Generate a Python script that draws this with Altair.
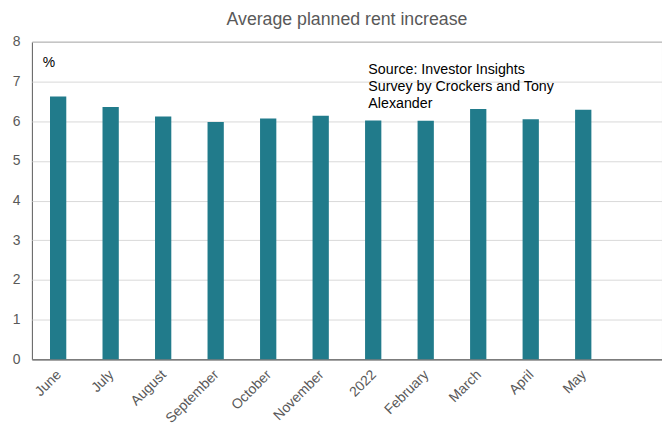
import altair as alt
import pandas as pd

months = ["June", "July", "August", "September", "October", "November",
          "2022", "February", "March", "April", "May", ""]
values = [6.62, 6.36, 6.12, 5.98, 6.07, 6.14, 6.02, 6.01, 6.31, 6.05, 6.29, None]
source_text = "Source: Investor Insights\nSurvey by Crockers and Tony\nAlexander"

df = pd.DataFrame({"month": months, "value": values})
FONT = "Liberation Sans"
GREY = "#595959"

bars = alt.Chart(df).mark_bar(color="#217b8b", width={"band": 0.31}).encode(
    x=alt.X("month:N", sort=months, title=None,
            scale=alt.Scale(paddingInner=0, paddingOuter=0),
            axis=alt.Axis(labelAngle=-45, labelAlign="right", labelBaseline="top",
                          labelFontSize=14, labelColor=GREY, labelFont=FONT,
                          ticks=False, domainColor=GREY, labelPadding=8,
                          labelOffset=-4)),
    y=alt.Y("value:Q", title=None,
            scale=alt.Scale(domain=[0, 8], nice=False),
            axis=alt.Axis(values=list(range(9)), ticks=False, domain=False,
                          labelFontSize=14, labelColor=GREY, labelFont=FONT,
                          labelPadding=12, gridColor="#d9d9d9")),
)

pct = alt.Chart(pd.DataFrame({"t": ["%"]})).mark_text(
    align="left", baseline="middle", font=FONT, fontSize=14, color="black"
).encode(x=alt.value(11), y=alt.value(21), text="t:N")

src = alt.Chart(pd.DataFrame({"t": [source_text]})).mark_text(
    align="left", baseline="top", font=FONT, fontSize=14.3, color="black",
    lineBreak="\n", lineHeight=17.5
).encode(x=alt.value(338), y=alt.value(21), text="t:N")

chart = alt.layer(bars, pct, src).properties(
    width=633, height=319,
    title=alt.TitleParams("Average planned rent increase", fontSize=17.8,
                          font=FONT, color=GREY, fontWeight="normal",
                          anchor="middle", offset=6),
    autosize=alt.AutoSizeParams(type="none"),
    padding={"left": 24, "top": 33, "right": 0, "bottom": 68},
).configure_view(stroke="#595959", strokeWidth=1)

chart.save("out.html", embed_options={"renderer": "svg", "actions": False})
